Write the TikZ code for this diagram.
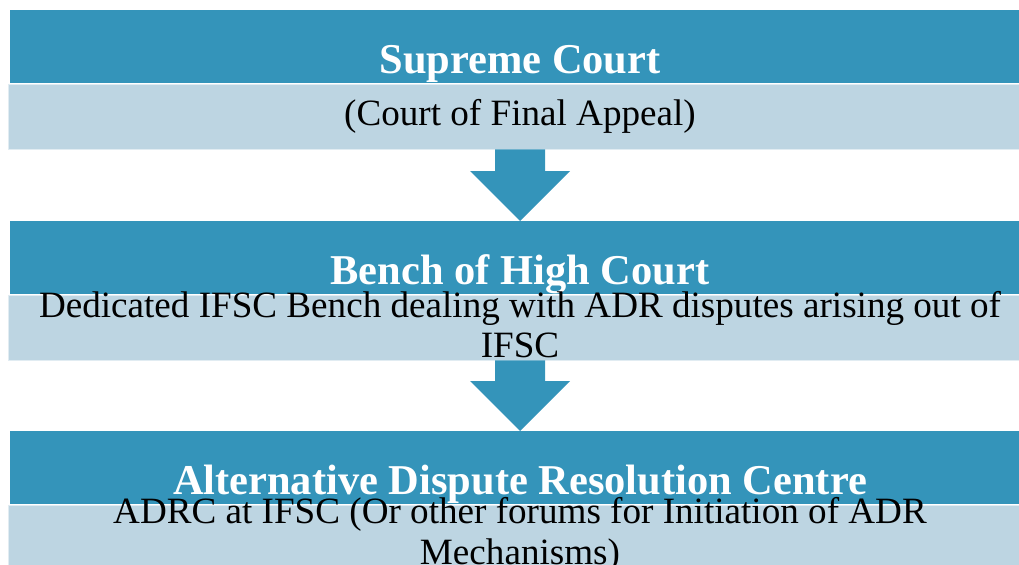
\documentclass[tikz,border=0pt]{standalone}
\usepackage{fontspec}
\setmainfont{Liberation Serif}
\usetikzlibrary{calc}
\definecolor{courtBlue}{RGB}{52,148,186}
\definecolor{courtPale}{RGB}{189,213,226}
\newcommand{\drawStep}[2]{
  \fill[stepArrow] ($(#1.south)+(-25,0)$) -- ($(#1.south)+(25,0)$)
    -- ($(#2.north)+(25,-50)$) -- ($(#2.north)+(50,-50)$) -- (#2.north)
    -- ($(#2.north)+(-50,-50)$) -- ($(#2.north)+(-25,-50)$) -- cycle;
}

\begin{document}
\begin{tikzpicture}[x=0.025cm, y=-0.025cm,
  headBox/.style={fill=courtBlue, text=white, font=\fontsize{30.2}{29}\selectfont\bfseries,
    minimum width=25.5cm, inner sep=0pt, text height=1.575cm, text depth=0.25cm},
  bodyBox/.style={fill=courtPale, draw=white!55!courtPale, line width=0.6pt,
    minimum width=25.55cm, minimum height=1.625cm, inner sep=0pt},
  bodyText/.style={font=\fontsize{26.4}{29}\selectfont, align=center, inner sep=0pt},
  stepArrow/.style={fill=courtBlue}]
  \useasboundingbox (0,0) rectangle (1019,565);
  \clip (0,0) rectangle (1019,565);
  % Tiers
  \node[headBox, anchor=north] (supreme) at (520,10) {Supreme Court};
  \node[bodyBox, anchor=north] (supremeBody) at (supreme.south) {};
  \node[bodyText] (supremeText) at (supremeBody.center) {(Court of Final Appeal)};

  \node[headBox, anchor=north] (bench) at (520,221) {Bench of High Court};
  \node[bodyBox, anchor=north] (benchBody) at (bench.south) {};
  \node[bodyText] (benchText) at ($(benchBody.center)+(0,-3)$)
    {Dedicated IFSC Bench dealing with ADR disputes arising out of\\IFSC};

  \node[headBox, anchor=north] (adrc) at (520,431) {Alternative Dispute Resolution Centre};
  \node[bodyBox, anchor=north] (adrcBody) at (adrc.south) {};
  \node[bodyText] (adrcText) at ($(adrcBody.center)+(0,-3)$)
    {ADRC at IFSC (Or other forums for Initiation of ADR\\Mechanisms)};

  % Arrows
  \drawStep{supremeBody}{bench}
  \drawStep{benchBody}{adrc}
\end{tikzpicture}
\end{document}
